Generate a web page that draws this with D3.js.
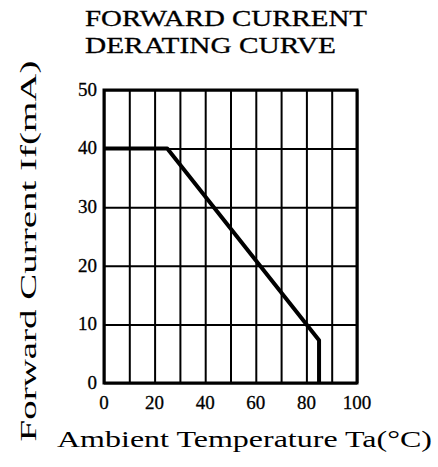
<!DOCTYPE html>
<html lang="en">
<head>
  <meta charset="UTF-8">
  <title>Forward Current Derating Curve</title>
  <style>
    body {
      margin: 0;
      background: #fff;
    }
    svg text {
      font-family: "Liberation Serif", "DejaVu Serif", serif;
      fill: #000;
    }
    /* scanned print looks a bit heavy */
    svg text.heavy {
      stroke: #000;
      stroke-width: 0.3px;
    }
  </style>
</head>
<body>
  <div id="chart"></div>

  <script src="https://d3js.org/d3.v7.min.js"></script>
  <script>
    // Derating curve points: ambient temperature (°C) vs forward current (mA)
    const temps    = [0, 25, 85, 85];
    const currents = [40, 40, 7.3, 0];

    // Grid / tick values
    const xGrid = [0, 10, 20, 30, 40, 50, 60, 70, 80, 90, 100];
    const xTickLabels = [0, 20, 40, 60, 80, 100];
    const yTicks = [0, 10, 20, 30, 40, 50];

    const titleLines = ["FORWARD CURRENT", "DERATING CURVE"];

    const W = 438, H = 467;
    // plot frame
    const plot = { left: 104, right: 357, top: 90, bottom: 383 };

    const svg = d3.select("#chart")
      .append("svg")
      .attr("width", W)
      .attr("height", H);

    const x = d3.scaleLinear().domain([0, 100]).range([plot.left, plot.right]);
    const y = d3.scaleLinear().domain([0, 50]).range([plot.bottom, plot.top]);

    // Title (wide serif caps, stretched to match)
    svg.append("text")
      .attr("class", "heavy")
      .attr("x", 85).attr("y", 26)
      .attr("textLength", 282).attr("lengthAdjust", "spacingAndGlyphs")
      .style("font-size", "24px")
      .text(titleLines[0]);
    svg.append("text")
      .attr("class", "heavy")
      .attr("x", 85).attr("y", 53)
      .attr("textLength", 251).attr("lengthAdjust", "spacingAndGlyphs")
      .style("font-size", "24px")
      .text(titleLines[1]);

    // Vertical grid lines
    svg.append("g")
      .attr("transform", `translate(0,${plot.bottom})`)
      .call(d3.axisBottom(x).tickValues(xGrid).tickSize(-(plot.bottom - plot.top)).tickFormat(""))
      .call(g => g.select(".domain").remove())
      .call(g => g.selectAll("line").attr("stroke", "#000").attr("stroke-width", 2));

    // Horizontal grid lines
    svg.append("g")
      .attr("transform", `translate(${plot.left},0)`)
      .call(d3.axisLeft(y).tickValues(yTicks).tickSize(-(plot.right - plot.left)).tickFormat(""))
      .call(g => g.select(".domain").remove())
      .call(g => g.selectAll("line").attr("stroke", "#000").attr("stroke-width", 2));

    // Frame
    svg.append("rect")
      .attr("x", x(0)).attr("y", y(50))
      .attr("width", x(100) - x(0)).attr("height", y(0) - y(50))
      .attr("fill", "none").attr("stroke", "#000").attr("stroke-width", 3);

    // Tick labels
    svg.append("g")
      .selectAll("text")
      .data(yTicks)
      .join("text")
      .attr("class", "heavy")
      .attr("x", plot.left - 7)
      .attr("y", d => y(d))
      .attr("dy", "0.3em")
      .attr("text-anchor", "end")
      .style("font-size", "19px")
      .text(d => d);

    svg.append("g")
      .selectAll("text")
      .data(xTickLabels)
      .join("text")
      .attr("class", "heavy")
      .attr("x", d => x(d))
      .attr("y", plot.bottom + 26)
      .attr("text-anchor", "middle")
      .style("font-size", "19px")
      .text(d => d);

    // Derating curve
    const line = d3.line()
      .x((d, i) => x(temps[i]))
      .y((d, i) => y(currents[i]));

    svg.append("path")
      .datum(temps)
      .attr("d", line)
      .attr("fill", "none")
      .attr("stroke", "#000")
      .attr("stroke-width", 4)
      .attr("stroke-linejoin", "round");

    // Axis titles
    svg.append("text")
      .attr("x", 57).attr("y", 447)
      .attr("textLength", 375).attr("lengthAdjust", "spacingAndGlyphs")
      .style("font-size", "23px")
      .text("Ambient Temperature Ta(°C)");

    svg.append("text")
      .attr("transform", "translate(36,251) rotate(-90)")
      .attr("text-anchor", "middle")
      .attr("textLength", 381).attr("lengthAdjust", "spacingAndGlyphs")
      .style("font-size", "24px")
      .text("Forward  Current  If(mA)");
  </script>
</body>
</html>
